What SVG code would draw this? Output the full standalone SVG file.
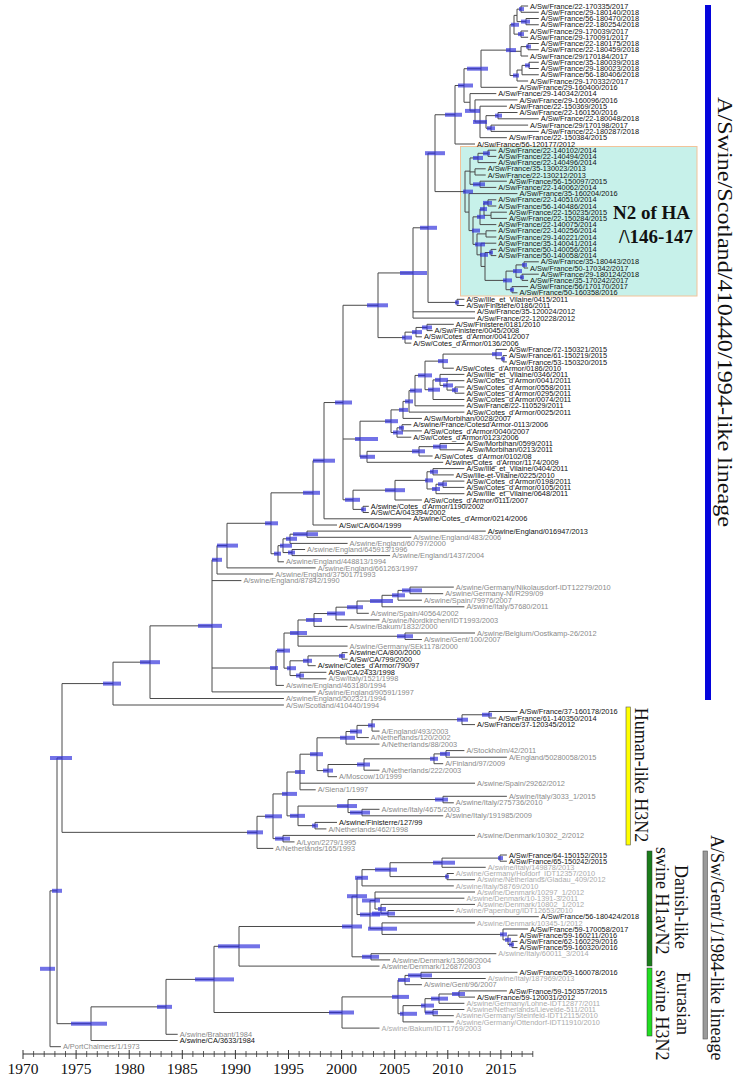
<svg xmlns="http://www.w3.org/2000/svg" width="738" height="1079" viewBox="0 0 738 1079">
<style>
.br{fill:none;stroke:#4a4a4a;stroke-width:1}
.hpd rect{fill:#2f2fdc;fill-opacity:.68}
.lb text{font-family:"Liberation Sans",Arial,sans-serif;font-size:7.4px;fill:#111}
.lb text.g{fill:#8a8a8a}
.lb text.lg{fill:#ababab}
.cl{font-family:"Liberation Serif","Times New Roman",serif;font-size:18px;fill:#111}
.ax{font-family:"Liberation Serif","Times New Roman",serif;font-size:15.5px;fill:#111;text-anchor:middle}
.n2{font-family:"Liberation Serif","Times New Roman",serif;font-size:19px;font-weight:bold;fill:#111}
</style>
<rect width="738" height="1079" fill="#fff"/>
<rect id="n2box" x="460.5" y="146.5" width="236.5" height="149.5" fill="#c7f1ea" stroke="#f2c39a" stroke-width="1"/>
<g id="connectors" class="br">
<path d="M528.1,6H521V12.25H538.8M538.8,18.5H526V24.75H538.8M521,9.13H517V21.63H526M528.1,31H521V37.25H528.1M517,15.38H514V34.13H521M538.8,43.5H528V49.75H538.8M528,46.63H521V56H528.1M538.8,62.25H529V68.5H538.8M529,65.38H522V74.75H538.8M522,70.06H517V81H528.1M514,24.75H510V75.53H517M510,51.31H521M510,50.14H481V87.3H517.5"/>
<path d="M517.5,112.5H498V118.8H538.8M528.1,125.1H491V131.4H538.8M498,115.65H486V128.25H491M506.9,106.2H480V137.7H506.9M480,121.95H486M517.5,99.9H475V121.95H480M496.3,93.6H470V110.93H475M481,68.72H464V102.26H470M464,85.49H455V144H475"/>
<path d="M496.3,150.2H488V156.4H496.3M488,153.3H478V162.6H496.3M485.7,168.8H475V175H485.7M506.9,181.2H480V187.4H496.3M478,157.95H470V184.3H480M470,171.9H475M496.3,199.8H488V206H496.3M506.9,212.2H491V218.4H506.9M488,202.9H484V215.3H491M484,209.1H480V224.6H496.3M496.3,230.8H486V237H496.3M496.3,249.4H491V255.6H496.3M538.8,261.8H524V268H528.1M538.8,274.2H522V280.4H528.1M524,264.9H516V277.3H522M528.1,286.6H512V292.8H517.5M516,271.1H506V289.7H512M491,252.5H485V280.4H506M496.3,243.2H481V266.45H485M486,233.9H477V254.83H481M480,216.85H473V244.36H477M517.5,193.6H469V230.6H473M470,171.13H465V212.1H469"/>
<path d="M455,114.75H435V191.6H465M464.4,299.3H457V305.5H464.4M435,153.18H428V302.4H457M428,227.79H413V318.1H475M413,311.8H475M453.8,324.3H427V330.6H432.6M427,327.45H416V336.8H421.9M416,332.13H405V343.1H411.3M413,272.95H378V337.6H405"/>
<path d="M506.9,355.6H503V361.9H506.9M506.9,349.4H496V358.75H503M496,354.08H443V368.2H453.8M464.4,387H455V393.2H464.4M464.4,380.7H447V390.1H455M464.4,374.4H440V385.4H447M440,379.9H433V399.5H464.4M443,361.14H425V389.7H433M425,375.42H415V405.8H464.4M415,390.61H409V412.1H464.4M409,401.36H403V418.4H421.9M411.3,424.7H402V430.9H421.9M402,427.8H397V437.2H411.3M403,409.88H391V432.5H397M464.4,443.5H440V449.8H464.4M440,446.65H419V456H432.6M419,451.33H367V462.3H443.2M391,421.19H360V456.82H367M464.4,468.6H433V474.9H453.8M464.4,481.1H443V487.4H464.4M443,484.25H436V493.7H464.4M433,471.75H427V488.98H436M427,480.36H395V500H421.9M368.8,506.3H363V512.5H368.8M395,490.18H353V509.4H363M378,305.28H343V499.79H353M343,439H360M343,402.54H324V518.8H411.3M324,460.67H313V525H337"/>
<path d="M485.7,531.1H307V537.3H411.3M307,534.2H290V543.4H347.6M305.1,549.5H292V555.6H390.1M290,538.8H283V552.55H292M283,545.68H278V561.8H283.9M313,492.84H271V553.74H278M271,523.29H227V567.9H315.7M227,545.6H217V574H273.3"/>
<path d="M453.8,587.1H410V593.7H443.2M410,590.4H398V600.2H421.9M398,595.3H382V606.8H464.4M382,601.05H357V613.3H368.8M357,607.18H336V619.9H379.5M336,613.54H314V626.4H347.6M475,633H405V639.5H421.9M314,619.97H298V646.1H347.6M298,636.25H405M347.6,652.6H342V659.2H347.6M342,655.9H308V665.7H315.7M326.4,672.3H300V678.8H326.4M308,660.8H290V675.55H300M298,633.04H284V668.18H290M284,650.61H276V685.4H283.9M217,559.8H212V691.9H315.7M212,580.6H241.4M212,668H276M212,625.85H150V698.5H283.9M150,662.18H113V705H283.9"/>
<path d="M517.5,711.5H489V718H496.3M489,714.75H462V724.6H475M462,719.68H372V731.1H379.5M372,725.39H357V737.6H368.8M357,731.5H346V744.1H379.5M464.4,750.6H446V757.2H506.9M446,753.9H434V763.7H443.2M434,758.8H364V770.2H379.5M364,764.5H328V776.7H337M346,737.8H317V770.6H328M317,754.2H300V789.8H315.7M300,783.2H475M506.9,796.3H443V802.8H453.8M379.5,809.3H362V815.8H443.2M443,799.55H348V812.55H362M337,822.4H315V828.9H326.4M348,806.05H298V825.65H315M300,772H287V815.85H298M475,835.4H283V841.9H294.5M287,793.93H273V838.65H283M273,816.29H257V848.4H273.3"/>
<path d="M506.9,855H500V861.2H506.9M500,858.1H442V867.3H485.7M453.8,873.5H447V879.7H475M442,862.7H390V876.6H447M390,869.65H362V885.9H453.8M453.8,910.5H388V916.7H538.8M475,904.4H381V913.6H388M475,892H375V909H381M375,898.2H464.4M517.5,941.4H512V947.6H517.5M517.5,935.2H508V944.5H512M528.1,929H503V939.85H508M475,922.9H382V934.43H503M375,900.5H370V928.66H382M362,877.78H357V914.58H370M496.3,953.7H371V959.9H390.1M357,896.18H352V956.8H371M352,926.49H239V966.1H379.5"/>
<path d="M517.5,972.3H421V978.5H485.7M421,975.4H405V984.7H421.9M506.9,990.9H459V997.1H475M459,994H439V1003.3H464.4M464.4,1009.5H433V1015.7H453.8M439,998.65H425V1012.6H433M425,1005.63H403V1021.9H453.8M405,980.05H398V1013.76H403M398,996.9H342V1028.1H379.5M239,946.3H214V1012.5H342M214,979.4H166V1034.3H177.7M166,1006.85H91V1040.5H177.7M113,683.59H62V832.35H257M62,757.97H57V1023.68H91M57,890.83H50V1046.7H60.9"/>
</g>
<g id="hpd" class="hpd">
<rect x="519" y="7.1" width="5" height="4"/><rect x="521" y="19.6" width="9" height="4"/><rect x="518" y="32.1" width="6" height="4"/><rect x="511" y="22.75" width="8" height="4"/><rect x="526" y="44.6" width="5" height="4"/><rect x="525" y="63.4" width="5" height="4"/><rect x="513" y="73.5" width="6" height="4"/><rect x="506" y="48.1" width="10" height="4"/><rect x="467" y="66.7" width="21" height="4"/><rect x="458" y="83.5" width="15" height="4"/><rect x="465" y="108.9" width="15" height="4"/><rect x="473" y="119.95" width="14" height="4"/><rect x="495" y="113.65" width="7" height="4"/><rect x="487" y="126.25" width="8" height="4"/><rect x="445" y="112.75" width="17" height="4"/><rect x="425" y="151.2" width="20" height="4"/>
<rect x="483" y="151.3" width="7" height="4"/><rect x="473" y="155.95" width="10" height="4"/><rect x="473" y="182.3" width="12" height="4"/><rect x="483" y="200.9" width="9" height="4"/><rect x="480" y="207.1" width="7" height="4"/><rect x="477" y="214.85" width="8" height="4"/><rect x="472" y="228.6" width="8" height="4"/><rect x="475" y="242.4" width="10" height="4"/><rect x="480" y="252.8" width="8" height="4"/><rect x="489" y="250.5" width="4" height="4"/><rect x="522" y="262.9" width="5" height="4"/><rect x="513" y="269.1" width="9" height="4"/><rect x="503" y="278.4" width="9" height="4"/><rect x="520" y="275.3" width="4" height="4"/><rect x="510" y="287.7" width="4" height="4"/><rect x="463" y="189.6" width="10" height="4"/>
<rect x="455" y="300.4" width="4" height="4"/><rect x="420" y="225.8" width="17" height="4"/><rect x="400" y="271" width="27" height="4"/><rect x="367" y="303.3" width="21" height="4"/><rect x="422" y="325.45" width="10" height="4"/><rect x="412" y="330.1" width="10" height="4"/><rect x="402" y="335.6" width="10" height="4"/>
<rect x="492" y="352.1" width="10" height="4"/><rect x="501" y="356.75" width="4" height="4"/><rect x="438" y="359.1" width="10" height="4"/><rect x="418" y="373.4" width="14" height="4"/><rect x="435" y="377.9" width="13" height="4"/><rect x="443" y="383.4" width="10" height="4"/><rect x="452" y="388.1" width="6" height="4"/><rect x="428" y="387.7" width="12" height="4"/><rect x="410" y="388.6" width="12" height="4"/><rect x="405" y="399.4" width="8" height="4"/><rect x="399" y="407.9" width="9" height="4"/><rect x="399" y="425.8" width="5" height="4"/><rect x="393" y="430.5" width="10" height="4"/><rect x="385" y="419.2" width="13" height="4"/><rect x="355" y="437" width="23" height="4"/><rect x="360" y="454.8" width="15" height="4"/><rect x="433" y="444.65" width="14" height="4"/><rect x="412" y="449.3" width="13" height="4"/><rect x="430" y="469.75" width="8" height="4"/><rect x="438" y="482.25" width="9" height="4"/><rect x="432" y="487" width="8" height="4"/><rect x="425" y="478.4" width="8" height="4"/><rect x="385" y="488.2" width="20" height="4"/><rect x="361" y="507.4" width="5" height="4"/><rect x="345" y="497.8" width="15" height="4"/><rect x="335" y="400.5" width="17" height="4"/><rect x="313" y="458.7" width="22" height="4"/><rect x="303" y="490.8" width="17" height="4"/>
<rect x="293" y="532.2" width="25" height="4"/><rect x="286" y="536.8" width="11" height="4"/><rect x="280" y="543.7" width="12" height="4"/><rect x="288" y="550.55" width="7" height="4"/><rect x="274" y="551.7" width="7" height="4"/><rect x="265" y="521.3" width="13" height="4"/><rect x="217" y="543.6" width="21" height="4"/><rect x="212" y="557.8" width="10" height="4"/>
<rect x="402" y="588.4" width="20" height="4"/><rect x="392" y="593.3" width="13" height="4"/><rect x="370" y="599" width="23" height="4"/><rect x="347" y="605.2" width="16" height="4"/><rect x="327" y="611.5" width="18" height="4"/><rect x="306" y="618" width="16" height="4"/><rect x="397" y="634.25" width="16" height="4"/><rect x="290" y="631" width="17" height="4"/><rect x="339" y="653.9" width="6" height="4"/><rect x="303" y="658.8" width="9" height="4"/><rect x="296" y="673.55" width="8" height="4"/><rect x="287" y="666.2" width="9" height="4"/><rect x="277" y="648.6" width="13" height="4"/><rect x="270" y="666" width="8" height="4"/><rect x="198" y="623.85" width="24" height="4"/><rect x="140" y="660.2" width="20" height="4"/><rect x="103" y="681.6" width="18" height="4"/>
<rect x="482" y="712.75" width="10" height="4"/><rect x="457" y="717.7" width="11" height="4"/><rect x="368" y="723.4" width="7" height="4"/><rect x="350" y="729.5" width="12" height="4"/><rect x="340" y="735.8" width="15" height="4"/><rect x="440" y="751.9" width="10" height="4"/><rect x="430" y="756.8" width="8" height="4"/><rect x="357" y="762.5" width="13" height="4"/><rect x="323" y="768.6" width="10" height="4"/><rect x="310" y="752.2" width="13" height="4"/><rect x="295" y="770" width="10" height="4"/><rect x="435" y="797.55" width="13" height="4"/><rect x="350" y="810.55" width="20" height="4"/><rect x="337" y="804.05" width="20" height="4"/><rect x="312" y="823.65" width="6" height="4"/><rect x="290" y="813.85" width="15" height="4"/><rect x="282" y="791.9" width="15" height="4"/><rect x="275" y="836.65" width="15" height="4"/><rect x="265" y="814.3" width="17" height="4"/><rect x="247" y="830.35" width="16" height="4"/>
<rect x="498" y="856.1" width="5" height="4"/><rect x="433" y="860.7" width="22" height="4"/><rect x="445" y="874.6" width="4" height="4"/><rect x="375" y="867.65" width="22" height="4"/><rect x="355" y="875.8" width="13" height="4"/><rect x="372" y="911.6" width="23" height="4"/><rect x="378" y="907" width="8" height="4"/><rect x="362" y="898.5" width="18" height="4"/><rect x="509" y="942.5" width="5" height="4"/><rect x="505" y="937.85" width="6" height="4"/><rect x="500" y="932.4" width="7" height="4"/><rect x="368" y="926.7" width="29" height="4"/><rect x="360" y="912.6" width="20" height="4"/><rect x="347" y="894.2" width="20" height="4"/><rect x="362" y="954.8" width="17" height="4"/><rect x="342" y="924.5" width="20" height="4"/><rect x="218" y="944.3" width="42" height="4"/>
<rect x="408" y="973.4" width="24" height="4"/><rect x="398" y="978" width="12" height="4"/><rect x="452" y="992" width="13" height="4"/><rect x="431" y="996.65" width="17" height="4"/><rect x="421" y="1003.6" width="13" height="4"/><rect x="425" y="1010.6" width="13" height="4"/><rect x="400" y="1011.8" width="17" height="4"/><rect x="392" y="994.9" width="17" height="4"/><rect x="329" y="1010.5" width="25" height="4"/><rect x="195" y="977.4" width="39" height="4"/><rect x="157" y="1004.85" width="15" height="4"/><rect x="71" y="1021.7" width="36" height="4"/><rect x="50" y="756" width="22" height="4"/><rect x="52" y="888.8" width="10" height="4"/><rect x="40" y="966.8" width="15" height="4"/>
</g>
<g id="leaves" class="lb">
<text x="530.1" y="8.6">A/Sw/France/22-170335/2017</text>
<text x="540.8" y="14.85">A/Sw/France/29-180140/2018</text>
<text x="540.8" y="21.1">A/Sw/France/56-180470/2018</text>
<text x="540.8" y="27.35">A/Sw/France/22-180254/2018</text>
<text x="530.1" y="33.6">A/Sw/France/29-170039/2017</text>
<text x="530.1" y="39.85">A/Sw/France/29-170091/2017</text>
<text x="540.8" y="46.1">A/Sw/France/22-180175/2018</text>
<text x="540.8" y="52.35">A/Sw/France/22-180459/2018</text>
<text x="530.1" y="58.6">A/Sw/France/29/170184/2017</text>
<text x="540.8" y="64.85">A/Sw/France/35-180039/2018</text>
<text x="540.8" y="71.1">A/Sw/France/29-180023/2018</text>
<text x="540.8" y="77.35">A/Sw/France/56-180406/2018</text>
<text x="530.1" y="83.6">A/Sw/France/29-170332/2017</text>
<text x="519.5" y="89.9">A/Sw/France/29-160400/2016</text>
<text x="498.3" y="96.2">A/Sw/France/29-140342/2014</text>
<text x="519.5" y="102.5">A/Sw/France/29-160096/2016</text>
<text x="508.9" y="108.8">A/Sw/France/22-150369/2015</text>
<text x="519.5" y="115.1">A/Sw/France/22-160150/2016</text>
<text x="540.8" y="121.4">A/Sw/France/22-180048/2018</text>
<text x="530.1" y="127.7">A/Sw/France/29/170198/2017</text>
<text x="540.8" y="134">A/Sw/France/22-180287/2018</text>
<text x="508.9" y="140.3">A/Sw/France/22-150384/2015</text>
<text x="477" y="146.6">A/Sw/France/56-120177/2012</text>
<text x="498.3" y="152.8">A/Sw/France/22-140102/2014</text>
<text x="498.3" y="159">A/Sw/France/22-140494/2014</text>
<text x="498.3" y="165.2">A/Sw/France/22-140496/2014</text>
<text x="487.7" y="171.4">A/Sw/France/35-130023/2013</text>
<text x="487.7" y="177.6">A/Sw/France/22-130212/2013</text>
<text x="508.9" y="183.8">A/Sw/France/56-150097/2015</text>
<text x="498.3" y="190">A/Sw/France/22-140062/2014</text>
<text x="519.5" y="196.2">A/Sw/France/35-160204/2016</text>
<text x="498.3" y="202.4">A/Sw/France/22-140510/2014</text>
<text x="498.3" y="208.6">A/Sw/France/56-140486/2014</text>
<text x="508.9" y="214.8">A/Sw/France/22-150235/2015</text>
<text x="508.9" y="221">A/Sw/France/22-150284/2015</text>
<text x="498.3" y="227.2">A/Sw/France/22-140075/2014</text>
<text x="498.3" y="233.4">A/Sw/France/22-140256/2014</text>
<text x="498.3" y="239.6">A/Sw/France/29-140221/2014</text>
<text x="498.3" y="245.8">A/Sw/France/35-140041/2014</text>
<text x="498.3" y="252">A/Sw/France/50-140056/2014</text>
<text x="498.3" y="258.2">A/Sw/France/50-140058/2014</text>
<text x="540.8" y="264.4">A/Sw/France/35-180443/2018</text>
<text x="530.1" y="270.6">A/Sw/France/50-170342/2017</text>
<text x="540.8" y="276.8">A/Sw/France/29-180124/2018</text>
<text x="530.1" y="283">A/Sw/France/35-170242/2017</text>
<text x="530.1" y="289.2">A/Sw/France/56/170170/2017</text>
<text x="519.5" y="295.4">A/Sw/France/50-160358/2016</text>
<text x="466.4" y="301.9">A/Sw/Ille_et_Vilaine/0415/2011</text>
<text x="466.4" y="308.1">A/Sw/Finistere/0186/2011</text>
<text x="477" y="314.4">A/Sw/France/35-120024/2012</text>
<text x="477" y="320.7">A/Sw/France/22-120228/2012</text>
<text x="455.8" y="326.9">A/Sw/Finistere/0181/2010</text>
<text x="434.6" y="333.2">A/Sw/Finistere/0045/2008</text>
<text x="423.9" y="339.4">A/Sw/Cotes_d'Armor/0041/2007</text>
<text x="413.3" y="345.7">A/Sw/Cotes_d'Armor/0136/2006</text>
<text x="508.9" y="352">A/Sw/France/72-150321/2015</text>
<text x="508.9" y="358.2">A/Sw/France/61-150219/2015</text>
<text x="508.9" y="364.5">A/Sw/France/53-150320/2015</text>
<text x="455.8" y="370.8">A/Sw/Cotes_d'Armor/0186/2010</text>
<text x="466.4" y="377">A/Sw/Ille_et_Vilaine/0346/2011</text>
<text x="466.4" y="383.3">A/Sw/Cotes_d'Armor/0041/2011</text>
<text x="466.4" y="389.6">A/Sw/Cotes_d'Armor/0558/2011</text>
<text x="466.4" y="395.8">A/Sw/Cotes_d'Armor/0295/2011</text>
<text x="466.4" y="402.1">A/Sw/Cotes_d'Armor/0074/2011</text>
<text x="466.4" y="408.4">A/Sw/France/22-110529/2011</text>
<text x="466.4" y="414.7">A/Sw/Cotes_d'Armor/0025/2011</text>
<text x="423.9" y="421">A/Sw/Morbihan/0028/2007</text>
<text x="413.3" y="427.3">A/swine/France/Cotesd'Armor-0113/2006</text>
<text x="423.9" y="433.5">A/Sw/Cotes_d'Armor/0040/2007</text>
<text x="413.3" y="439.8">A/Sw/Cotes_d'Armor/0123/2006</text>
<text x="466.4" y="446.1">A/Sw/Morbihan/0599/2011</text>
<text x="466.4" y="452.4">A/Sw/Morbihan/0213/2011</text>
<text x="434.6" y="458.6">A/Sw/Cotes_d'Armor/0102/08</text>
<text x="445.2" y="464.9">A/swine/Cotes_d'Armor/1174/2009</text>
<text x="466.4" y="471.2">A/Sw/Ille_et_Vilaine/0404/2011</text>
<text x="455.8" y="477.5">A/Sw/Ille-et-Vilaine/0225/2010</text>
<text x="466.4" y="483.7">A/Sw/Cotes_d'Armor/0198/2011</text>
<text x="466.4" y="490">A/Sw/Cotes_d'Armor/0105/2011</text>
<text x="466.4" y="496.3">A/Sw/Ille_et_Vilaine/0648/2011</text>
<text x="423.9" y="502.6">A/Sw/Cotes_d'Armor/0111/2007</text>
<text x="370.8" y="508.9">A/swine/Cotes_d'Armor/1190/2002</text>
<text x="370.8" y="515.1">A/Sw/CA/043394/2002</text>
<text x="413.3" y="521.4">A/swine/Cotes_d'Armor/0214/2006</text>
<text x="339" y="527.6">A/Sw/CA/604/1999</text>
<text x="487.7" y="533.7">A/swine/England/016947/2013</text>
<text class="g" x="413.3" y="539.9">A/swine/England/483/2006</text>
<text class="g" x="349.6" y="546">A/swine/England/60797/2000</text>
<text class="g" x="307.1" y="552.1">A/swine/England/645913/1996</text>
<text class="g" x="392.1" y="558.2">A/swine/England/1437/2004</text>
<text class="g" x="285.9" y="564.4">A/swine/England/448813/1994</text>
<text class="g" x="317.7" y="570.5">A/swine/England/661263/1997</text>
<text class="g" x="275.3" y="576.6">A/swine/England/375017/1993</text>
<text class="g" x="243.4" y="583.2">A/swine/England/87842/1990</text>
<text class="g" x="455.8" y="589.7">A/swine/Germany/Nikolausdorf-IDT12279/2010</text>
<text class="g" x="445.2" y="596.3">A/swine/Germany-NI/R299/09</text>
<text class="g" x="423.9" y="602.8">A/swine/Spain/79976/2007</text>
<text class="g" x="466.4" y="609.4">A/swine/Italy/57680/2011</text>
<text class="g" x="370.8" y="615.9">A/swine/Spain/40564/2002</text>
<text class="g" x="381.5" y="622.5">A/swine/Nordkirchen/IDT1993/2003</text>
<text class="g" x="349.6" y="629">A/swine/Bakum/1832/2000</text>
<text class="g" x="477" y="635.6">A/swine/Belgium/Oostkamp-26/2012</text>
<text class="g" x="423.9" y="642.1">A/swine/Gent/100/2007</text>
<text class="g" x="349.6" y="648.7">A/swine/Germany/SEk1178/2000</text>
<text x="349.6" y="655.2">A/swine/CA/800/2000</text>
<text x="349.6" y="661.8">A/Sw/CA/799/2000</text>
<text x="317.7" y="668.3">A/swine/Cotes_d'Armor/790/97</text>
<text x="328.4" y="674.9">A/Sw/CA/2433/1998</text>
<text class="g" x="328.4" y="681.4">A/Sw/Italy/1521/1998</text>
<text class="g" x="285.9" y="688">A/swine/England/463180/1994</text>
<text class="g" x="317.7" y="694.5">A/swine/England/90591/1997</text>
<text class="g" x="285.9" y="701.1">A/swine/England/502321/1994</text>
<text class="g" x="285.9" y="707.6">A/Sw/Scotland/410440/1994</text>
<text x="519.5" y="714.1">A/Sw/France/37-160178/2016</text>
<text x="498.3" y="720.6">A/Sw/France/61-140350/2014</text>
<text x="477" y="727.2">A/Sw/France/37-120345/2012</text>
<text class="g" x="381.5" y="733.7">A/England/493/2003</text>
<text class="g" x="370.8" y="740.2">A/Netherlands/120/2002</text>
<text class="g" x="381.5" y="746.7">A/Netherlands/88/2003</text>
<text class="g" x="466.4" y="753.2">A/Stockholm/42/2011</text>
<text class="g" x="508.9" y="759.8">A/England/50280058/2015</text>
<text class="g" x="445.2" y="766.3">A/Finland/97/2009</text>
<text class="g" x="381.5" y="772.8">A/Netherlands/222/2003</text>
<text class="g" x="339" y="779.3">A/Moscow/10/1999</text>
<text class="g" x="477" y="785.8">A/swine/Spain/29262/2012</text>
<text class="g" x="317.7" y="792.4">A/Siena/1/1997</text>
<text class="g" x="508.9" y="798.9">A/swine/Italy/3033_1/2015</text>
<text class="g" x="455.8" y="805.4">A/swine/Italy/275736/2010</text>
<text class="g" x="381.5" y="811.9">A/swine/Italy/4675/2003</text>
<text class="g" x="445.2" y="818.4">A/swine/Italy/191985/2009</text>
<text x="339" y="825">A/swine/Finisterre/127/99</text>
<text class="g" x="328.4" y="831.5">A/Netherlands/462/1998</text>
<text class="g" x="477" y="838">A/swine/Denmark/10302_2/2012</text>
<text class="g" x="296.5" y="844.5">A/Lyon/2279/1995</text>
<text class="g" x="275.3" y="851">A/Netherlands/165/1993</text>
<text x="508.9" y="857.6">A/Sw/France/64-150152/2015</text>
<text x="508.9" y="863.8">A/Sw/France/65-150242/2015</text>
<text class="lg" x="487.7" y="869.9">A/swine/Italy/149878/2013</text>
<text class="lg" x="455.8" y="876.1">A/swine/Germany/Holdorf_IDT12357/2010</text>
<text class="lg" x="477" y="882.3">A/swine/Netherlands/Gladau_409/2012</text>
<text class="lg" x="455.8" y="888.5">A/swine/Italy/58769/2010</text>
<text class="lg" x="477" y="894.6">A/swine/Denmark/10297_1/2012</text>
<text class="lg" x="466.4" y="900.8">A/swine/Denmark/10-1391-3/2011</text>
<text class="lg" x="477" y="907">A/swine/Denmark/10802_1/2012</text>
<text class="lg" x="455.8" y="913.1">A/swine/Papenburg/IDT12653/2010</text>
<text x="540.8" y="919.3">A/Sw/France/56-180424/2018</text>
<text class="lg" x="477" y="925.5">A/swine/Denmark/10345-1/2012</text>
<text x="530.1" y="931.6">A/Sw/France/59-170058/2017</text>
<text x="519.5" y="937.8">A/Sw/France/59-160211/2016</text>
<text x="519.5" y="944">A/Sw/France/62-160229/2016</text>
<text x="519.5" y="950.2">A/Sw/France/59-160320/2016</text>
<text class="lg" x="498.3" y="956.3">A/swine/Italy/60011_3/2014</text>
<text class="g" x="392.1" y="962.5">A/swine/Denmark/13608/2004</text>
<text class="g" x="381.5" y="968.7">A/swine/Denmark/12687/2003</text>
<text x="519.5" y="974.9">A/Sw/France/59-160078/2016</text>
<text class="lg" x="487.7" y="981.1">A/swine/Italy/187969/2013</text>
<text class="g" x="423.9" y="987.3">A/swine/Gent/96/2007</text>
<text x="508.9" y="993.5">A/Sw/France/59-150357/2015</text>
<text x="477" y="999.7">A/Sw/France/59-120031/2012</text>
<text class="lg" x="466.4" y="1005.9">A/swine/Germany/Lohne-IDT12877/2011</text>
<text class="lg" x="466.4" y="1012.1">A/swine/Netherlands/Lievelde-511/2011</text>
<text class="lg" x="455.8" y="1018.3">A/swine/Germany/Steinfeld-IDT12115/2010</text>
<text class="lg" x="455.8" y="1024.5">A/swine/Germany/Ottendorf-IDT11910/2010</text>
<text class="lg" x="381.5" y="1030.7">A/swine/Bakum/IDT1769/2003</text>
<text class="g" x="179.7" y="1036.9">A/swine/Brabant/1984</text>
<text x="179.7" y="1043.1">A/swine/CA/3633/1984</text>
<text class="g" x="62.9" y="1049.3">A/PortChalmers/1/1973</text>
</g>
<g id="n2-label">
<text class="n2" x="613" y="219">N2 of HA</text>
<text class="n2" x="619" y="243">/\146-147</text>
</g>
<g id="clade-scotland">
<rect x="705" y="5" width="6" height="695" fill="#0505dc"/>
<text class="cl" style="font-size:22px" transform="translate(718,97) rotate(90)" textLength="430" lengthAdjust="spacingAndGlyphs">A/Swine/Scotland/410440/1994-like lineage</text>
</g>
<g id="clade-human">
<rect x="626" y="707" width="4.5" height="138" fill="#ffff00" stroke="#555" stroke-width="0.6"/>
<text class="cl" transform="translate(635,775) rotate(90)" text-anchor="middle">Human-like H3N2</text>
</g>
<g id="clade-gent">
<rect x="703" y="851" width="4.5" height="188" fill="#9a9a9a" stroke="#555" stroke-width="0.6"/>
<text class="cl" transform="translate(711,835) rotate(90)">A/Sw/Gent/1/1984-like lineage</text>
</g>
<g id="clade-danish">
<rect x="647" y="851" width="5" height="115" fill="#1b7d1b" stroke="#333" stroke-width="0.5"/>
<text class="cl" transform="translate(675,865) rotate(90)">Danish-like</text>
<text class="cl" transform="translate(656,847) rotate(90)">swine H1avN2</text>
</g>
<g id="clade-eurasian">
<rect x="647" y="968" width="5" height="68" fill="#22dd22" stroke="#333" stroke-width="0.5"/>
<text class="cl" transform="translate(677,972) rotate(90)">Eurasian</text>
<text class="cl" transform="translate(656,970) rotate(90)">swine H3N2</text>
</g>
<g id="axis">
<path d="M23,1054H533" stroke="#333" stroke-width="1" fill="none"/>
<path d="M23,1050v9M76.1,1050v9M129.2,1050v9M182.3,1050v9M235.4,1050v9M288.5,1050v9M341.6,1050v9M394.7,1050v9M447.8,1050v9M500.9,1050v9" stroke="#333" stroke-width="1" fill="none"/>
<path d="M33.6,1051v6M44.2,1051v6M54.9,1051v6M65.5,1051v6M86.7,1051v6M97.3,1051v6M108,1051v6M118.6,1051v6M139.8,1051v6M150.4,1051v6M161.1,1051v6M171.7,1051v6M192.9,1051v6M203.5,1051v6M214.2,1051v6M224.8,1051v6M246,1051v6M256.6,1051v6M267.3,1051v6M277.9,1051v6M299.1,1051v6M309.7,1051v6M320.4,1051v6M331,1051v6M352.2,1051v6M362.8,1051v6M373.5,1051v6M384.1,1051v6M405.3,1051v6M415.9,1051v6M426.6,1051v6M437.2,1051v6M458.4,1051v6M469,1051v6M479.7,1051v6M490.3,1051v6M511.5,1051v6M522.1,1051v6M532.8,1051v6" stroke="#333" stroke-width="0.8" fill="none"/>
<text class="ax" x="23" y="1074">1970</text><text class="ax" x="76.1" y="1074">1975</text><text class="ax" x="129.2" y="1074">1980</text><text class="ax" x="182.3" y="1074">1985</text><text class="ax" x="235.4" y="1074">1990</text><text class="ax" x="288.5" y="1074">1995</text><text class="ax" x="341.6" y="1074">2000</text><text class="ax" x="394.7" y="1074">2005</text><text class="ax" x="447.8" y="1074">2010</text><text class="ax" x="500.9" y="1074">2015</text>
</g>
</svg>
